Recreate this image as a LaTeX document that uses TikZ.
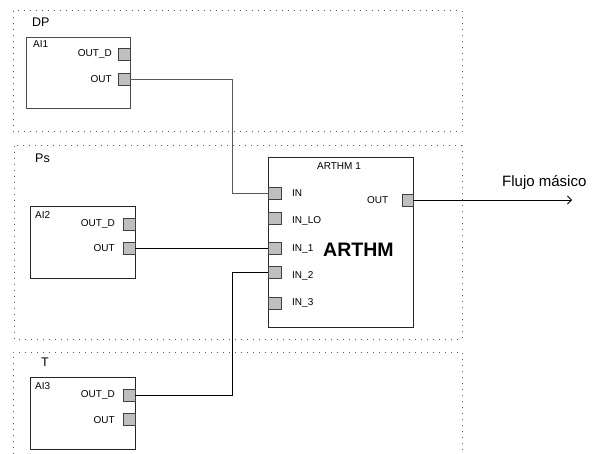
\documentclass[tikz,border=0pt]{standalone}
\usepackage{fontspec}
\setmainfont{Liberation Sans}
\usetikzlibrary{arrows.meta}
\begin{document}
\begin{tikzpicture}[x=1pt,y=-1pt,
  region/.style={draw=black!65, line width=1pt, dash pattern=on 1pt off 5pt},
  fblock/.style={draw=black!85, line width=0.8pt, fill=white, inner sep=0pt, anchor=north west},
  port/.style={draw=black!75, fill=black!25, line width=0.8pt, minimum width=12pt, minimum height=12pt, inner sep=0pt},
  plabel/.style={font=\fontsize{10}{12}\selectfont, inner sep=0pt},
  rlabel/.style={font=\fontsize{12.5}{14}\selectfont, inner sep=0pt, anchor=base west},
  wire/.style={draw=black, line width=0.8pt},
  gwire/.style={draw=black!65, line width=0.9pt},
  ]
\useasboundingbox (0,0) rectangle (601,454);
% regions
\draw[region] (13,11) rectangle (462,132);
\draw[region] (14,146) rectangle (462,339);
\draw[region] (13,454) -- (13,352) -- (462,352) -- (462,454);
\node[rlabel] (ldp) at (32,27) {DP};
\node[rlabel] (lps) at (35,163) {Ps};
\node[rlabel] (lt) at (41,366.7) {T};
% blocks
\node[fblock, draw=black!70, minimum width=104pt, minimum height=71pt] (ai1) at (26,37) {};
\node[fblock, minimum width=105pt, minimum height=72pt] (ai2) at (30,206) {};
\node[fblock, minimum width=105pt, minimum height=72pt] (ai3) at (30,377) {};
\node[fblock, minimum width=145pt, minimum height=170pt] (ar) at (268,157) {};
% block names
\node[plabel, anchor=base west] (n1) at (33,48) {AI1};
\node[plabel, anchor=base west] (n2) at (35,218) {AI2};
\node[plabel, anchor=base west] (n3) at (35,389) {AI3};
\node[plabel, anchor=base] (nar) at (339,170) {ARTHM 1};
\node[font=\fontsize{19.5}{22}\bfseries, inner sep=0pt, anchor=base west] (big) at (323,256) {ARTHM};
% ports AI
\node[port] (a1od) at (124,54) {};
\node[port] (a1o) at (124,79) {};
\node[port] (a2od) at (129,224) {};
\node[port] (a2o) at (129,248.5) {};
\node[port] (a3od) at (129,395.5) {};
\node[port] (a3o) at (129,419.5) {};
% ports ARTHM
\node[port, minimum width=13pt] (pin) at (274.5,193) {};
\node[port, minimum width=13pt] (pinlo) at (274.5,218) {};
\node[port, minimum width=13pt] (pin1) at (274.5,248.5) {};
\node[port, minimum width=13pt] (pin2) at (274.5,272) {};
\node[port, minimum width=13pt] (pin3) at (274.5,303) {};
\node[port, minimum width=11pt] (pout) at (407.5,200) {};
% port labels
\node[plabel, anchor=base east] (t1od) at (112,56.7) {OUT\_D};
\node[plabel, anchor=base east] (t1o) at (112,82.7) {OUT};
\node[plabel, anchor=base east] (t2od) at (115,226) {OUT\_D};
\node[plabel, anchor=base east] (t2o) at (115,251.7) {OUT};
\node[plabel, anchor=base east] (t3od) at (115,397.7) {OUT\_D};
\node[plabel, anchor=base east] (t3o) at (115,423.3) {OUT};
\node[plabel, anchor=base west] (tin) at (292,196.5) {IN};
\node[plabel, anchor=base west] (tinlo) at (292,223.3) {IN\_LO};
\node[plabel, anchor=base west] (tin1) at (292,251.7) {IN\_1};
\node[plabel, anchor=base west] (tin2) at (292,278.3) {IN\_2};
\node[plabel, anchor=base west] (tin3) at (292,305) {IN\_3};
\node[plabel, anchor=base west] (tout) at (367,204) {OUT};
% connectors
\coordinate (j1) at (232,0);
\draw[gwire] (a1o.east) -| (j1 |- pin.west) -- (pin.west);
\draw[wire] (a2o.east) -- (pin1.west);
\draw[wire] (a3od.east) -| (j1 |- pin2.west) -- (pin2.west);
\coordinate (fend) at (572,200);
\draw[wire, -{Straight Barb[length=4pt,width=8pt,line width=0.8pt]}] (pout.east) -- (fend);
\node[font=\fontsize{15}{18}\selectfont, inner sep=0pt, anchor=base west] (flujo) at (502,186.7) {Flujo másico};
\end{tikzpicture}
\end{document}
